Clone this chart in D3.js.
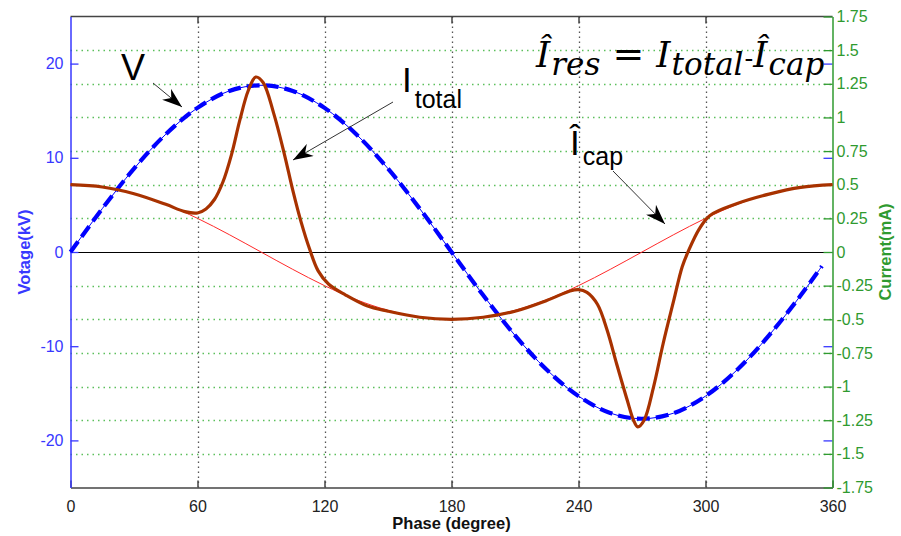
<!DOCTYPE html>
<html>
<head>
<meta charset="utf-8">
<script src="https://cdn.jsdelivr.net/npm/d3@7"></script>
<style>
  body { margin: 0; background: #fff; }
  svg { display: block; font-family: Arial, "Liberation Sans", sans-serif; }
</style>
</head>
<body>
<div id="chart"></div>
<script>
// phase (degree) samples and values
const phaseV = [0, 15, 30, 45, 60, 75, 90, 105, 120, 135, 150, 165, 180, 195, 210, 225, 240, 255, 270, 285, 300, 315, 330, 345, 355]
const voltage = [0, 4.6, 8.85, 12.5, 15.3, 17.1, 17.7, 17.1, 15.3, 12.5, 8.85, 4.6, 0, -4.6, -8.85, -12.5, -15.3, -17.1, -17.7, -17.1, -15.3, -12.5, -8.85, -4.6, -1.5]

const phaseCap = [0, 15, 30, 45, 60, 75, 90, 105, 120, 135, 150, 165, 180, 195, 210, 225, 240, 255, 270, 285, 300, 315, 330, 345, 360]
const iCap = [0.5, 0.483, 0.433, 0.354, 0.25, 0.129, 0, -0.129, -0.25, -0.354, -0.433, -0.483, -0.5, -0.483, -0.433, -0.354, -0.25, -0.129, 0, 0.129, 0.25, 0.354, 0.433, 0.483, 0.5]

const phaseTotal = [0, 15, 30, 45, 54, 60, 64, 68, 72, 76, 80, 84, 87.5, 91, 96, 101, 105, 109, 113, 117, 122, 130, 140, 150, 165, 180, 195, 210, 225, 236, 240, 244, 249, 253.5, 258, 263, 266, 268, 271, 275.5, 280, 285, 289, 292, 297, 302, 315, 330, 345, 360]
const iTotal = [0.5, 0.483, 0.433, 0.354, 0.3, 0.29, 0.32, 0.39, 0.52, 0.72, 0.98, 1.2, 1.3, 1.26, 1.03, 0.73, 0.46, 0.22, 0.02, -0.14, -0.24, -0.32, -0.4, -0.44, -0.485, -0.5, -0.485, -0.44, -0.36, -0.29, -0.28, -0.3, -0.39, -0.58, -0.83, -1.1, -1.25, -1.3, -1.25, -1.0, -0.68, -0.36, -0.11, 0.01, 0.17, 0.27, 0.36, 0.43, 0.48, 0.5]

const xTicks = [0, 60, 120, 180, 240, 300, 360]
const vTicks = [-20, -10, 0, 10, 20]
const iTicks = [-1.75, -1.5, -1.25, -1, -0.75, -0.5, -0.25, 0, 0.25, 0.5, 0.75, 1, 1.25, 1.5, 1.75]
const iGrid = [-1.5, -1.25, -1, -0.75, -0.5, -0.25, 0.25, 0.5, 0.75, 1, 1.25, 1.5]

var width = 901, height = 536
var pLeft = 70.5, pRight = 832.5, pTop = 16.5, pBottom = 487.5

var svg = d3.select("#chart").append("svg")
  .attr("width", width)
  .attr("height", height)

var x = d3.scaleLinear().domain([0, 360]).range([pLeft, pRight])
var yV = d3.scaleLinear().domain([-25, 25]).range([pBottom, pTop])
var yI = d3.scaleLinear().domain([-1.75, 1.75]).range([pBottom, pTop])

var blue = "#3838ff", green = "#2f9a2f", axisGray = "#444"
var tickFont = "Arial, 'Liberation Sans', sans-serif"
var plain = d => String(d)   // keeps the ordinary hyphen as minus sign

// grid: green dotted horizontals (current), gray dotted verticals (phase)
svg.append("g").selectAll("line")
  .data(iGrid).enter().append("line")
  .attr("x1", pLeft).attr("x2", pRight)
  .attr("y1", d => Math.round(yI(d)) + 0.5).attr("y2", d => Math.round(yI(d)) + 0.5)
  .attr("stroke", "#5cbf5c").attr("stroke-width", 1.3)
  .attr("stroke-dasharray", "1.5,4")

svg.append("g").selectAll("line")
  .data(xTicks.slice(1, -1)).enter().append("line")
  .attr("x1", d => Math.round(x(d)) + 0.5).attr("x2", d => Math.round(x(d)) + 0.5)
  .attr("y1", pTop).attr("y2", pBottom)
  .attr("stroke", "#555").attr("stroke-width", 1.3)
  .attr("stroke-dasharray", "1.5,3.5")

// zero current line
svg.append("line")
  .attr("x1", pLeft).attr("x2", pRight)
  .attr("y1", Math.round(yI(0)) + 0.5).attr("y2", Math.round(yI(0)) + 0.5)
  .attr("stroke", "#000").attr("stroke-width", 1.2)

// top frame line
svg.append("line")
  .attr("x1", pLeft).attr("x2", pRight).attr("y1", pTop).attr("y2", pTop)
  .attr("stroke", axisGray).attr("stroke-width", 1.5)

// x axis bottom + top ticks
var xAxis = svg.append("g")
  .attr("transform", "translate(0," + pBottom + ")")
  .call(d3.axisBottom(x).tickValues(xTicks).tickSize(-7).tickPadding(13).tickSizeOuter(0))
xAxis.select(".domain").attr("stroke", axisGray).attr("stroke-width", 1.5)
xAxis.selectAll(".tick line").attr("stroke", axisGray).attr("stroke-width", 1.5)
xAxis.selectAll(".tick text").attr("fill", "#222").style("font-size", "16px").style("font-family", tickFont)

svg.append("g")
  .attr("transform", "translate(0," + pTop + ")")
  .call(d3.axisTop(x).tickValues(xTicks.slice(1, -1)).tickSize(-7).tickFormat("").tickSizeOuter(0))
  .call(g => g.select(".domain").remove())
  .selectAll(".tick line").attr("stroke", axisGray).attr("stroke-width", 1.5)

// left voltage axis
var vAxis = svg.append("g")
  .attr("transform", "translate(" + pLeft + ",0)")
  .call(d3.axisLeft(yV).tickValues(vTicks).tickSize(-8).tickPadding(7).tickSizeOuter(0).tickFormat(plain))
vAxis.select(".domain").attr("stroke", blue).attr("stroke-width", 1.5)
vAxis.selectAll(".tick line").attr("stroke", blue).attr("stroke-width", 1.3)
vAxis.selectAll(".tick text").attr("fill", blue).style("font-size", "16px").style("font-family", tickFont)

// voltage ticks mirrored on the right side
svg.append("g")
  .attr("transform", "translate(" + pRight + ",0)")
  .call(d3.axisRight(yV).tickValues(vTicks.filter(d => d != 0)).tickSize(-9).tickFormat("").tickSizeOuter(0))
  .call(g => g.select(".domain").remove())
  .selectAll(".tick line").attr("stroke", blue).attr("stroke-width", 1.3)

// right current axis
var iAxis = svg.append("g")
  .attr("transform", "translate(" + pRight + ",0)")
  .call(d3.axisRight(yI).tickValues(iTicks).tickSize(-9).tickPadding(4).tickSizeOuter(0).tickFormat(plain))
iAxis.select(".domain").attr("stroke", green).attr("stroke-width", 1.5)
iAxis.selectAll(".tick line").attr("stroke", green).attr("stroke-width", 1.3)
iAxis.selectAll(".tick text").attr("fill", green).style("font-size", "16px").style("font-family", tickFont)

// curves
var vLine = d3.line().x(d => x(d[0])).y(d => yV(d[1])).curve(d3.curveCatmullRom.alpha(0.5))
var iLine = d3.line().x(d => x(d[0])).y(d => yI(d[1])).curve(d3.curveCatmullRom.alpha(0.5))

var vData = d3.zip(phaseV, voltage)
svg.append("path").datum(vData)
  .attr("d", vLine).attr("fill", "none")
  .attr("stroke", "#0000ff").attr("stroke-width", 1)
svg.append("path").datum(vData)
  .attr("d", vLine).attr("fill", "none")
  .attr("stroke", "#0000ff").attr("stroke-width", 4.2)
  .attr("stroke-dasharray", "13,6")

svg.append("path").datum(d3.zip(phaseCap, iCap))
  .attr("d", iLine).attr("fill", "none")
  .attr("stroke", "#ff2a2a").attr("stroke-width", 1)

svg.append("path").datum(d3.zip(phaseTotal, iTotal))
  .attr("d", iLine).attr("fill", "none")
  .attr("stroke", "#a83200").attr("stroke-width", 3.2)
  .attr("stroke-linejoin", "round")

// axis titles
svg.append("text")
  .attr("transform", "translate(24," + (pTop + pBottom) / 2 + ") rotate(-90)")
  .attr("text-anchor", "middle").attr("dy", "0.35em")
  .attr("fill", blue).style("font-size", "16.5px").style("font-weight", "bold")
  .text("Votage(kV)")

svg.append("text")
  .attr("transform", "translate(885," + (pTop + pBottom) / 2 + ") rotate(-90)")
  .attr("text-anchor", "middle").attr("dy", "0.35em")
  .attr("fill", green).style("font-size", "16.5px").style("font-weight", "bold")
  .text("Current(mA)")

svg.append("text")
  .attr("x", (pLeft + pRight) / 2).attr("y", 529)
  .attr("text-anchor", "middle")
  .attr("fill", "#111").style("font-size", "16.5px").style("font-weight", "bold")
  .text("Phase (degree)")

// arrows
svg.append("defs").append("marker")
  .attr("id", "head")
  .attr("viewBox", "0 0 20 14")
  .attr("refX", 20).attr("refY", 7)
  .attr("markerWidth", 20).attr("markerHeight", 14)
  .attr("markerUnits", "userSpaceOnUse")
  .attr("orient", "auto")
  .append("path")
  .attr("d", "M0,0 L20,7 L0,14 L6,7 Z")
  .attr("fill", "#000")

var arrows = [
  [153, 83, 182, 107],
  [393, 102, 293, 160],
  [613, 171, 665, 224]
]
svg.append("g").selectAll("line")
  .data(arrows).enter().append("line")
  .attr("x1", d => d[0]).attr("y1", d => d[1])
  .attr("x2", d => d[2]).attr("y2", d => d[3])
  .attr("stroke", "#333").attr("stroke-width", 1)
  .attr("marker-end", "url(#head)")

// annotation labels
svg.append("text").attr("x", 121).attr("y", 80)
  .style("font-size", "36px").attr("fill", "#000").text("V")

var tot = svg.append("text").attr("x", 402).attr("y", 92).attr("fill", "#000")
tot.append("tspan").style("font-size", "35px").text("I")
tot.append("tspan").attr("dx", 3).attr("dy", 16).style("font-size", "25px").text("total")

var cap = svg.append("text").attr("x", 570).attr("y", 155).attr("fill", "#000")
cap.append("tspan").style("font-size", "35px").text("Î")
cap.append("tspan").attr("dx", 3).attr("dy", 10).style("font-size", "25px").text("cap")

// formula
var f = svg.append("text").attr("x", 536).attr("y", 67)
  .attr("fill", "#000")
  .style("font-family", "'DejaVu Serif', serif").style("font-style", "italic")
f.append("tspan").style("font-size", "36px").text("Î")
f.append("tspan").attr("dy", 8).attr("dx", 1).style("font-size", "31px").text("res")
f.append("tspan").attr("dy", -8).style("font-size", "38px").style("font-style", "normal").text(" = ")
f.append("tspan").style("font-size", "36px").text("I")
f.append("tspan").attr("dy", 8).attr("dx", 1).style("font-size", "31px").text("total")
f.append("tspan").attr("dy", -8).attr("dx", 1).style("font-size", "26px").style("font-style", "normal").text("-")
f.append("tspan").style("font-size", "36px").text("Î")
f.append("tspan").attr("dy", 8).attr("dx", 1).style("font-size", "31px").text("cap")
</script>
</body>
</html>
